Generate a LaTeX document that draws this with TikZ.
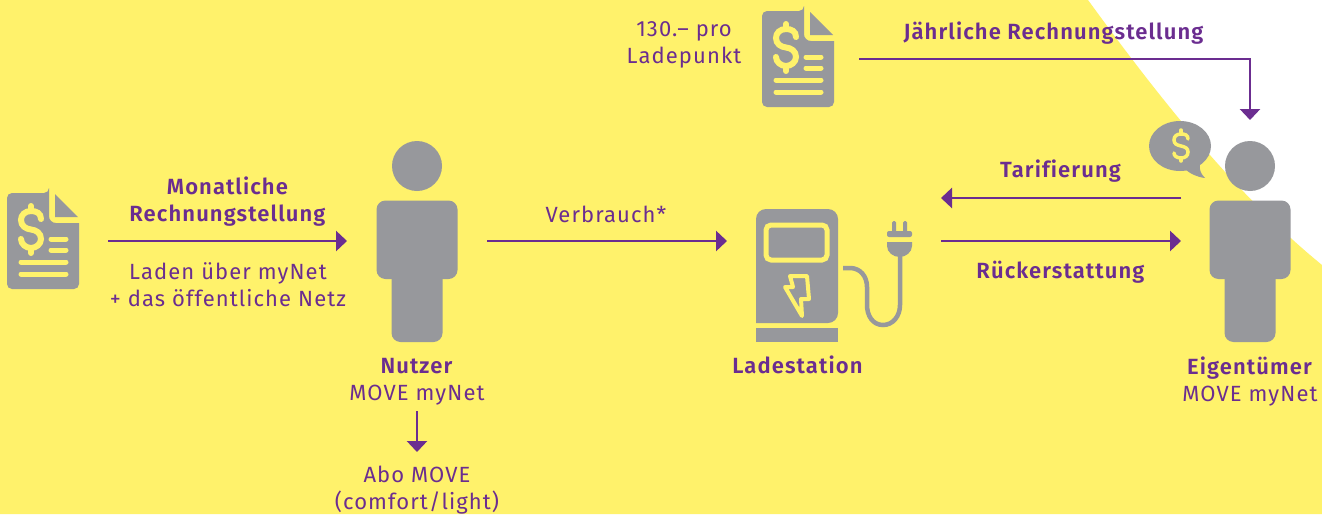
\documentclass[tikz,border=0pt]{standalone}
\usepackage{fontspec}
\usepackage{xcolor}
\usetikzlibrary{arrows.meta, positioning}
\setmainfont[LetterSpace=5,Ligatures=NoCommon,BoldFont={Fira Sans SemiBold}]{Fira Sans}
\definecolor{moveyellow}{HTML}{FFF26B}
\definecolor{movepurple}{HTML}{6B2D90}
\definecolor{movegray}{HTML}{97989C}
\tikzset{
  flow/.style={draw=movepurple, line width=2.7pt, -{Triangle[length=11pt,width=20pt]}},
  lbl/.style={text=movepurple, font=\fontsize{22}{27}\selectfont, align=center, inner sep=0pt},
  dollar/.style={draw=moveyellow, line cap=round, line width=#1},
  billline/.style={draw=moveyellow, line cap=round, line width=5pt},
  % person, origin at the centre of the head
  person/.pic={
    \fill[movegray] (0,0) circle (25);
    \fill[movegray, rounded corners=9pt] (-40.5,34.5) rectangle (40.5,113);
    \fill[movegray, rounded corners=9pt] (-25.5,100) rectangle (25.5,176);
  },
  % invoice, origin at its top left corner
  bill/.pic={
    \fill[movegray, rounded corners=5pt] (0,0) -- (42,0) -- (42,0) [rounded corners=0pt] -- (42,23)
      .. controls (42,27) and (45,30) .. (49,30) -- (72,30) [rounded corners=5pt] -- (72,96) -- (0,96) -- cycle;
    \fill[movegray] (48,1) -- (71,24) -- (48,24) -- cycle;
    \draw[dollar=6pt] (34,26) .. controls (34,20) and (29,18) .. (24,18)
      .. controls (18,18) and (14,22) .. (14,27) .. controls (14,33) and (19,36) .. (24,36.5)
      .. controls (29,37) and (34,40) .. (34,46) .. controls (34,51) and (29,55) .. (24,55)
      .. controls (19,55) and (14,51) .. (14,46);
    \draw[dollar=6pt] (24,13) -- (24,18) (24,55) -- (24,60);
    \draw[billline] (44,46) -- (59,46);
    \draw[billline] (44,57) -- (59,57);
    \draw[billline] (14,69) -- (59,69);
    \draw[billline] (14,81) -- (59,81);
  },
}
\begin{document}
\begin{tikzpicture}[x=1pt, y=-1pt]
  \useasboundingbox (0,0) rectangle (1322,514);
  % background
  \fill[white] (0,0) rectangle (1322,514);
  \fill[moveyellow] (0,0) -- (1088,0) .. controls (1150,85) and (1230,190) .. (1322,265) -- (1322,514) -- (0,514) -- cycle;
  % invoices
  \pic at (7,193) {bill};
  \pic at (762,11) {bill};
  % persons
  \pic at (417,166) {person};
  \pic at (1250,166) {person};
  % speech bubble
  \fill[movegray] (1180,146) ellipse (31 and 25);
  \fill[movegray] (1184,168) .. controls (1190,174) and (1197,177) .. (1205,178) .. controls (1201,174) and (1199,170) .. (1200,164) -- cycle;
  \draw[dollar=3.5pt] (1188,139) .. controls (1188,135) and (1185,134) .. (1181,134)
    .. controls (1177,134) and (1174,136) .. (1174,140) .. controls (1174,144) and (1177,145) .. (1181,146)
    .. controls (1185,147) and (1188,148) .. (1188,152) .. controls (1188,156) and (1185,158) .. (1181,158)
    .. controls (1177,158) and (1174,156) .. (1174,153);
  \draw[dollar=3.5pt] (1181,130) -- (1181,134) (1181,158) -- (1181,161);
  % charging station
  \fill[movegray, rounded corners=10pt] (756,323) -- (756,209) -- (838,209) -- (838,323) [sharp corners] -- cycle;
  \fill[movegray] (756,328) rectangle (838,342);
  \draw[moveyellow, line width=5pt, rounded corners=5pt] (766,225) rectangle (827,260);
  \draw[moveyellow, line width=4pt, line join=round] (790,276) -- (807,276) -- (809,299) -- (801,299) -- (802,316) -- (785,287) -- (793,287) -- cycle;
  % cable and plug
  \draw[movegray, line width=4.5pt] (843,268) -- (850,268) .. controls (860,268) and (867,276) .. (867,287)
    -- (867,305) .. controls (867,316) and (873,325) .. (883,325) .. controls (893,325) and (900,316) .. (900,305) -- (900,255);
  \fill[movegray, rounded corners=2pt] (887,237) -- (887,231) -- (912,231) -- (912,237) -- cycle;
  \fill[movegray] (887,242) -- (912,242) -- (912,246) .. controls (912,252) and (906,257) .. (899.5,257) .. controls (893,257) and (887,252) .. (887,246) -- cycle;
  \fill[movegray, rounded corners=1.5pt] (892,233) rectangle (896,221);
  \fill[movegray, rounded corners=1.5pt] (903,233) rectangle (907,221);
  % labels
  \node[lbl] (monat) at (228,202) {\textbf{Monatliche}\\\textbf{Rechnungstellung}};
  \node[lbl] (laden) at (228,285) {Laden über myNet\\+ das öffentliche Netz};
  \node[lbl] (verbrauch) at (606,214) {Verbrauch*};
  \node[lbl] (nutzer) at (417,381.5) {\textbf{Nutzer}\\MOVE myNet};
  \node[lbl] (abo) at (417,490) {Abo MOVE\\(comfort/light)};
  \node[lbl] (station) at (798,365) {\textbf{Ladestation}};
  \node[lbl] (eigen) at (1250,381.5) {\textbf{Eigentümer}\\MOVE myNet};
  \node[lbl] (tarif) at (1061,171) {\textbf{Tarifierung}};
  \node[lbl] (rueck) at (1061,272) {\textbf{Rückerstattung}};
  \node[lbl] (jahr) at (1054,33) {\textbf{Jährliche Rechnungstellung}};
  \node[lbl] (preis) at (684,45) {130.– pro\\Ladepunkt};
  % connector ends
  \coordinate (billout) at (108,241);
  \coordinate (nutzerin) at (347,241);
  \coordinate (nutzerout) at (487,241);
  \coordinate (stationin) at (727,241);
  \coordinate (stationout) at (941,241);
  \coordinate (eigenin) at (1181,241);
  \coordinate (eigenout) at (1181,198);
  \coordinate (stationback) at (941,198);
  \coordinate (topbill) at (859,59);
  \coordinate (eigentop) at (1250,120);
  \coordinate (nutzerdown) at (417,411);
  \coordinate (aboin) at (417,452);
  % flows
  \draw[flow] (billout) -- (nutzerin);
  \draw[flow] (nutzerout) -- (stationin);
  \draw[flow] (stationout) -- (eigenin);
  \draw[flow] (eigenout) -- (stationback);
  \draw[flow] (topbill) -| (eigentop);
  \draw[flow] (nutzerdown) -- (aboin);
\end{tikzpicture}
\end{document}
